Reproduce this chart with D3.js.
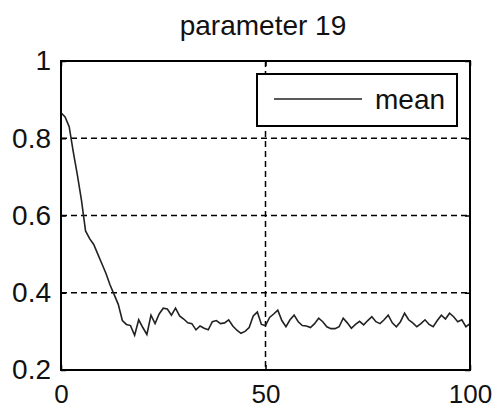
<!DOCTYPE html>
<html><head><meta charset="utf-8">
<script src="https://cdn.jsdelivr.net/npm/d3@7"></script>
<style>
html,body{margin:0;padding:0;background:#fff;}
svg{display:block;font-family:Arial,"Liberation Sans",sans-serif;}
</style></head>
<body>
<script>
const title = "parameter 19";
const seriesName = "mean";
const meanValues = [
0.866,0.855,0.830,0.765,0.705,0.640,0.560,0.540,0.525,0.500,
0.475,0.450,0.420,0.395,0.370,0.328,0.318,0.315,0.290,0.330,
0.310,0.292,0.342,0.320,0.345,0.360,0.358,0.342,0.360,0.340,
0.332,0.322,0.320,0.304,0.314,0.308,0.304,0.325,0.328,0.320,
0.322,0.330,0.314,0.303,0.295,0.300,0.310,0.340,0.350,0.318,
0.315,0.336,0.345,0.355,0.328,0.312,0.330,0.342,0.325,0.315,
0.314,0.310,0.320,0.334,0.325,0.312,0.307,0.307,0.312,0.334,
0.322,0.308,0.318,0.326,0.317,0.328,0.338,0.325,0.320,0.330,
0.342,0.322,0.312,0.325,0.347,0.330,0.322,0.312,0.320,0.330,
0.318,0.312,0.328,0.342,0.332,0.347,0.338,0.325,0.330,0.312,
0.320];
const xTicks = [0, 50, 100];
const yTicks = [0.2, 0.4, 0.6, 0.8, 1];
const xDomain = [0, 100];
const yDomain = [0.2, 1];

const W = 497, H = 410;
const L = 61, R = 470, T = 61, B = 370;
const svg = d3.select("body").append("svg").attr("width", W).attr("height", H);
const x = d3.scaleLinear().domain(xDomain).range([L, R]);
const y = d3.scaleLinear().domain(yDomain).range([B, T]);
const fs = 28;
const fsX = 26;

// grid
const g = svg.append("g");
yTicks.filter(v => v > yDomain[0] && v < yDomain[1]).forEach(v => {
  g.append("line").attr("x1", L).attr("x2", R).attr("y1", y(v)).attr("y2", y(v))
   .attr("stroke", "#000").attr("stroke-width", 1.5).attr("stroke-dasharray", "6,4");
});
xTicks.filter(v => v > xDomain[0] && v < xDomain[1]).forEach(v => {
  g.append("line").attr("y1", T).attr("y2", B).attr("x1", x(v)).attr("x2", x(v))
   .attr("stroke", "#000").attr("stroke-width", 1.5).attr("stroke-dasharray", "6,4");
});

// axes with inward ticks
const xAxisB = d3.axisBottom(x).tickValues(xTicks).tickSize(-5).tickPadding(15).tickFormat(d3.format("d"));
const xAxisT = d3.axisTop(x).tickValues(xTicks).tickSize(-5).tickFormat("");
const yAxisL = d3.axisLeft(y).tickValues(yTicks).tickSize(-5).tickPadding(10).tickFormat(d => String(d));
const yAxisR = d3.axisRight(y).tickValues(yTicks).tickSize(-5).tickFormat("");
function style(sel, size){
  sel.select(".domain").remove();
  sel.selectAll("line").attr("stroke", "#000").attr("stroke-width", 1.5);
  sel.selectAll("text").attr("fill", "#111").attr("font-size", size).attr("font-family", "Arial, 'Liberation Sans', sans-serif");
}
svg.append("g").attr("transform", `translate(0,${B})`).call(xAxisB).call(style, fsX);
svg.append("g").attr("transform", `translate(0,${T})`).call(xAxisT).call(style, fs);
svg.append("g").attr("transform", `translate(${L},0)`).call(yAxisL).call(style, fs);
svg.append("g").attr("transform", `translate(${R},0)`).call(yAxisR).call(style, fs);

// data line
const line = d3.line().x((d, i) => x(i)).y(d => y(d));
svg.append("path").datum(meanValues).attr("d", line)
  .attr("fill", "none").attr("stroke", "#222").attr("stroke-width", 1.6);

// box
svg.append("rect").attr("x", L).attr("y", T).attr("width", R - L).attr("height", B - T)
  .attr("fill", "none").attr("stroke", "#000").attr("stroke-width", 2);

// legend
const lg = svg.append("g");
lg.append("rect").attr("x", 257).attr("y", 74).attr("width", 200).attr("height", 52)
  .attr("fill", "#fff").attr("stroke", "#000").attr("stroke-width", 2);
lg.append("line").attr("x1", 274).attr("x2", 362).attr("y1", 99).attr("y2", 99)
  .attr("stroke", "#222").attr("stroke-width", 1.6);
lg.append("text").attr("x", 375).attr("y", 109).attr("font-size", fs).attr("fill", "#111").text(seriesName);

// title
svg.append("text").attr("x", 263).attr("y", 35).attr("text-anchor", "middle")
  .attr("font-size", fs).attr("fill", "#111").text(title);
</script>
</body></html>
